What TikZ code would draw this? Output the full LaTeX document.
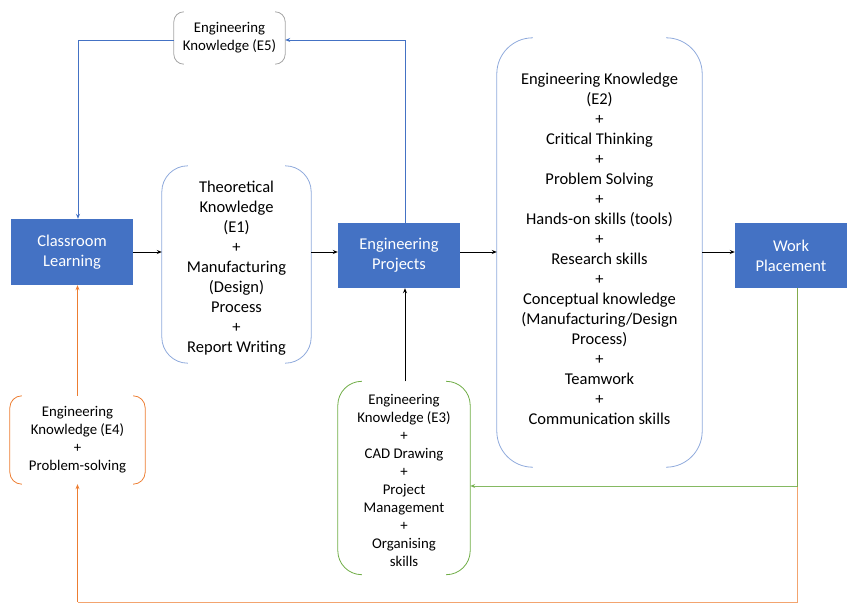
\documentclass[tikz,border=0pt]{standalone}
\usepackage{fontspec}
\setmainfont{Carlito}
\usetikzlibrary{arrows.meta}
\definecolor{boxblue}{HTML}{4472C4}
\definecolor{brblue}{HTML}{8FAADC}
\definecolor{ornge}{HTML}{ED7D31}
\definecolor{grn}{HTML}{70AD47}
\newcommand{\bigtxt}{\fontsize{16.5}{20}\selectfont}
\newcommand{\smalltxt}{\fontsize{14.8}{18}\selectfont}
\newcommand{\bracketpair}[3]{%
  \draw[#2,line width=0.8pt,rounded corners=#3] ([xshift=#3]#1.north west) -- (#1.north west) -- (#1.south west) -- ([xshift=#3]#1.south west);
  \draw[#2,line width=0.8pt,rounded corners=#3] ([xshift=-#3]#1.north east) -- (#1.north east) -- (#1.south east) -- ([xshift=-#3]#1.south east);}
\begin{document}
\begin{tikzpicture}[x=1pt,y=-1pt,
  solidbox/.style={rectangle,fill=boxblue,text=white,align=center,inner sep=0pt,font=\bigtxt},
  brbox/.style={rectangle,inner sep=0pt},
  brtext/.style={align=center,inner sep=0pt},
  arr/.style={line width=0.8pt,-{Stealth[length=5pt,width=4pt]}}]
\useasboundingbox (0,0) rectangle (848,604);
% solid boxes
\node[solidbox,minimum width=122pt,minimum height=66pt] (CL) at (72,252) {Classroom\\Learning};
\node[solidbox,minimum width=122pt,minimum height=65pt] (EP) at (399,255.5) {Engineering\\Projects};
\node[solidbox,minimum width=112pt,minimum height=65pt] (WP) at (791,255.5) {Work\\Placement};
% bracket boxes
\node[brbox,minimum width=149pt,minimum height=197pt] (TK) at (236.5,264.5) {};
\node[brtext,font=\bigtxt,yshift=-4pt] (TKt) at (TK.center) {Theoretical\\Knowledge\\(E1)\\+\\Manufacturing\\(Design)\\Process\\+\\Report Writing};
\node[brbox,minimum width=205pt,minimum height=429pt] (E2) at (599.5,252.5) {};
\node[brtext,font=\bigtxt,yshift=4pt] (E2t) at (E2.center) {Engineering Knowledge\\(E2)\\+\\Critical Thinking\\+\\Problem Solving\\+\\Hands-on skills (tools)\\+\\Research skills\\+\\Conceptual knowledge\\(Manufacturing/Design\\Process)\\+\\Teamwork\\+\\Communication skills};
\node[brbox,minimum width=111pt,minimum height=52pt] (E5) at (229.5,38) {};
\node[brtext,font=\smalltxt] (E5t) at (E5.center) {Engineering\\Knowledge (E5)};
\node[brbox,minimum width=135pt,minimum height=88pt] (E4) at (77.5,440) {};
\node[brtext,font=\smalltxt] (E4t) at (E4.center) {Engineering\\Knowledge (E4)\\+\\Problem-solving};
\node[brbox,minimum width=132pt,minimum height=193pt] (E3) at (404,478) {};
\node[brtext,font=\smalltxt,yshift=-2pt] (E3t) at (E3.center) {Engineering\\Knowledge (E3)\\+\\CAD Drawing\\+\\Project\\Management\\+\\Organising\\skills};
\bracketpair{TK}{brblue}{26pt}
\bracketpair{E2}{brblue}{36pt}
\bracketpair{E5}{black!35}{10pt}
\bracketpair{E4}{ornge}{12pt}
\bracketpair{E3}{grn}{24pt}
% main flow
\draw[arr] (CL.east) -- (CL.east -| TK.west);
\draw[arr] (TK.east |- CL.east) -- (TK.east |- CL.east -| EP.west);
\draw[arr] (EP.east |- CL.east) -- (E2.west |- CL.east);
\draw[arr] (E2.east |- CL.east) -- (WP.west |- CL.east);
% feedback loops
\draw[arr,boxblue] ([yshift=-2pt]E5.west) -| ([xshift=6pt]CL.north);
\draw[arr,boxblue] ([xshift=6pt]EP.north) |- ([yshift=-2pt]E5.east);
\draw[arr] (E3.north -| EP.south) ++(6pt,0) coordinate (e3top) -- (e3top |- EP.south);
\draw[arr,ornge] (E4.north) -- (E4.north |- CL.south);
\coordinate (wpdown) at ([xshift=6pt]WP.south);
\coordinate (bot) at (wpdown |- 0,602);
\draw[line width=0.8pt,ornge!70] (wpdown) -- (bot) -- (bot -| E4.south);
\draw[arr,ornge] (bot -| E4.south) -- (E4.south);
\draw[arr,grn,opacity=0.85] (wpdown) |- (E3.east |- 0,486);
\end{tikzpicture}
\end{document}
